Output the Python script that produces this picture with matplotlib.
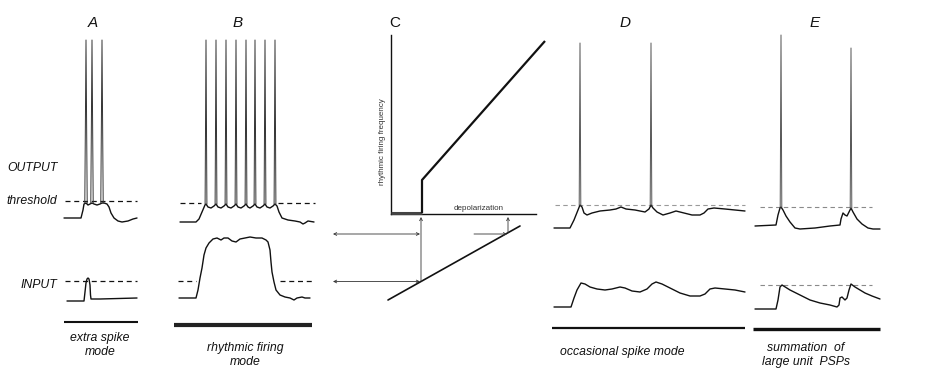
import matplotlib
matplotlib.use("Agg")
import matplotlib.pyplot as plt
import numpy as np

# ---------------- data (traces, figure-pixel units) -------------
# Panel A : extra spike mode
A_out_x = [64, 81, 83, 84, 86, 88, 90, 92, 94, 97, 100, 102, 104, 107, 109, 111, 114, 118, 122, 128, 133, 137]
A_out_y = [218, 218, 210, 204, 203, 205, 204, 203, 204, 205, 204, 203, 203, 204, 207, 213, 218, 221, 222, 221, 219, 218]
A_spikes = [86, 92, 102]
A_spike_top = [40, 40, 40]
A_in_x = [67, 84, 85, 86, 87, 88, 89, 90, 90.5, 91, 100, 137]
A_in_y = [301, 301, 292, 283, 279, 278, 279, 285, 295, 299, 299, 298]

# Panel B : rhythmic firing mode
B_out_x = [180, 196, 199, 202, 205, 206, 208, 211, 214, 216, 218, 221, 224, 226, 228, 231, 234, 236, 238,
           241, 244, 246, 248, 250, 253, 255, 257, 260, 263, 265, 267, 270, 273, 275, 277, 279, 282, 288,
           295, 300, 303, 305, 308, 314]
B_out_y = [222, 222, 219, 212, 205, 204, 207, 208, 206, 204, 207, 208, 206, 204, 207, 208, 206, 204, 207,
           208, 206, 204, 207, 208, 206, 204, 207, 208, 206, 204, 207, 208, 206, 204, 206, 212, 218, 220,
           221, 222, 224, 223, 221, 222]
B_spikes = [206, 216, 226, 236, 246, 255, 265, 275]
B_spike_top = [40] * 8
B_in_x = [179, 196, 198, 200, 202, 204, 206, 209, 213, 217, 221, 224, 228, 232, 236, 240, 245, 250, 256,
          262, 266, 268, 270, 271, 272, 274, 276, 280, 285, 290, 294, 297, 302, 305, 310]
B_in_y = [298, 298, 290, 278, 268, 255, 248, 243, 239, 238, 240, 238, 238, 241, 242, 239, 238, 237, 238,
          238, 240, 242, 250, 262, 272, 282, 290, 295, 297, 298, 300, 298, 297, 298, 298]

# Panel C : frequency / depolarization relation
C_curve_x = [391, 422, 422, 545]
C_curve_y = [213, 213, 180, 41]
C_input_x = [388, 520]
C_input_y = [300, 226]

# Panel D : occasional spike mode
D_out_x = [554, 570, 574, 578, 580, 582, 584, 587, 592, 600, 610, 616, 621, 626, 635, 645, 649, 651, 653,
           657, 663, 670, 676, 684, 692, 700, 704, 708, 714, 725, 735, 745]
D_out_y = [228, 228, 220, 210, 205, 207, 213, 215, 213, 211, 210, 209, 207, 209, 210, 212, 209, 205, 208,
           212, 215, 213, 211, 213, 215, 215, 213, 209, 208, 209, 210, 211]
D_spikes = [580, 651]
D_spike_top = [43, 43]
D_in_x = [554, 571, 574, 577, 581, 585, 590, 597, 605, 612, 620, 625, 632, 640, 647, 652, 656, 662, 670,
          680, 690, 700, 705, 710, 715, 725, 735, 745]
D_in_y = [307, 307, 298, 290, 283, 284, 287, 289, 290, 289, 287, 288, 291, 292, 289, 284, 282, 284, 288,
          293, 296, 296, 294, 289, 288, 289, 290, 292]

# Panel E : summation of large unit PSPs
E_out_x = [755, 776, 778, 780, 781, 783, 786, 790, 795, 800, 815, 830, 840, 841, 843, 845, 847, 849, 851,
           853, 857, 862, 868, 873, 880]
E_out_y = [226, 225, 215, 208, 207, 210, 216, 222, 228, 229, 228, 226, 225, 219, 213, 215, 216, 212, 208,
           212, 219, 224, 228, 229, 229]
E_spikes = [781, 851]
E_spike_top = [35, 48]
E_in_x = [755, 776, 778, 780, 782, 790, 800, 810, 820, 830, 837, 839, 840, 842, 845, 847, 849, 851, 855,
          860, 865, 872, 880]
E_in_y = [309, 309, 300, 287, 285, 290, 295, 300, 303, 305, 307, 305, 298, 297, 300, 298, 290, 284, 287,
          290, 293, 296, 299]

panel_letters = ["A", "B", "C", "D", "E"]
mode_labels = ["extra spike\nmode", "rhythmic firing\nmode", "occasional spike mode",
               "summation  of\nlarge unit  PSPs"]

# ---------------- drawing -------------
W, H = 925, 387
fig = plt.figure(figsize=(W / 100, H / 100), dpi=100)
ax = fig.add_axes([0, 0, 1, 1])
ax.set_xlim(0, W)
ax.set_ylim(H, 0)
ax.axis("off")

FONT = "Liberation Sans"
ink = "#111111"


def trace(x, y, lw=1.0, color=ink):
    ax.plot(x, y, color=color, lw=lw, solid_joinstyle="round", solid_capstyle="round")


def spikes(xs, tops, tx, ty, half=0.9, color="#333333"):
    for sx, top in zip(xs, tops):
        base = np.interp(sx, tx, ty)
        ax.plot([sx - half, sx, sx + half], [base, top, base], color=color, lw=0.7)


def dashed(x0, x1, y, color=ink, lw=0.9):
    ax.plot([x0, x1], [y, y], color=color, lw=lw, dashes=(4, 3))


def bar(x0, x1, y, lw, color=ink):
    ax.plot([x0, x1], [y, y], color=color, lw=lw, solid_capstyle="butt")


# Panel A
dashed(65, 137, 201)
dashed(65, 137, 281)
trace(A_out_x, A_out_y)
spikes(A_spikes, A_spike_top, A_out_x, A_out_y, half=1.2)
trace(A_in_x, A_in_y)
bar(64, 138, 322, 1.5)

# Panel B
dashed(180, 201, 203)
dashed(278, 315, 203)
dashed(178, 196, 281)
dashed(280, 315, 281)
trace(B_out_x, B_out_y)
spikes(B_spikes, B_spike_top, B_out_x, B_out_y)
trace(B_in_x, B_in_y)
bar(174, 312, 325, 3.0, color="#222222")

# Panel C
ax.plot([391, 391], [35, 214], color=ink, lw=1.0)
ax.plot([391, 536], [214, 214], color=ink, lw=1.0)
ax.plot(C_curve_x[:2], C_curve_y[:2], color="#444444", lw=2.2, solid_capstyle="butt")
ax.plot(C_curve_x[1:], C_curve_y[1:], color=ink, lw=1.6, solid_capstyle="butt")
trace(C_input_x, C_input_y, lw=1.2)
arrow_kw = dict(arrowstyle="->", lw=0.6, color="#333333", mutation_scale=5, shrinkA=0, shrinkB=0)
darrow_kw = dict(arrowstyle="<->", lw=0.6, color="#333333", mutation_scale=5, shrinkA=0, shrinkB=0)
x_thr = 421
y_thr = np.interp(x_thr, C_input_x, C_input_y)
ax.annotate("", xy=(x_thr, 217), xytext=(x_thr, y_thr), arrowprops=arrow_kw)
x_hi = 508
y_hi = np.interp(x_hi, C_input_x, C_input_y)
ax.annotate("", xy=(x_hi, 217), xytext=(x_hi, y_hi), arrowprops=arrow_kw)
ax.annotate("", xy=(333, 234), xytext=(x_thr - 1, 234), arrowprops=darrow_kw)
ax.annotate("", xy=(x_hi - 1, 234), xytext=(474, 234), arrowprops=arrow_kw)
ax.annotate("", xy=(333, y_thr), xytext=(x_thr - 1, y_thr), arrowprops=darrow_kw)
ax.text(383, 142, "rhythmic firing frequency", rotation=90, ha="center", va="center",
        fontsize=5.8, family=FONT, color="#333333")
ax.text(479, 209, "depolarization", ha="center", va="center", fontsize=5.8,
        family=FONT, color="#333333")

# Panel D
dashed(555, 745, 205, color="#9a9a9a", lw=0.8)
trace(D_out_x, D_out_y)
spikes(D_spikes, D_spike_top, D_out_x, D_out_y, half=0.8, color="#555555")
trace(D_in_x, D_in_y)
bar(552, 745, 328, 1.6)

# Panel E
dashed(760, 872, 207, color="#8a8a8a", lw=0.8)
dashed(760, 872, 285, color="#8a8a8a", lw=0.8)
trace(E_out_x, E_out_y)
spikes(E_spikes, E_spike_top, E_out_x, E_out_y, half=0.8, color="#555555")
trace(E_in_x, E_in_y)
bar(753, 880, 329, 2.4)

# Text
letter_pos = [(93, 23), (238, 23), (395, 23), (625, 23), (815, 23)]
for (lx, ly), letter in zip(letter_pos, panel_letters):
    ax.text(lx, ly, letter, ha="center", va="center", fontsize=11, family=FONT,
            style="normal" if letter == "C" else "italic", color=ink)

lab_kw = dict(fontsize=8.8, family=FONT, style="italic", color=ink)
ax.text(7, 168, "OUTPUT", ha="left", va="center", **lab_kw)
ax.text(6, 201, "threshold", ha="left", va="center", **lab_kw)
ax.text(21, 285, "INPUT", ha="left", va="center", **lab_kw)

mode_pos = [(100, 345), (245, 355), (622, 352), (806, 355)]
for (mx, my), lab in zip(mode_pos, mode_labels):
    ax.text(mx, my, lab, ha="center", va="center", linespacing=1.2, **lab_kw)

fig.savefig("out.png", dpi=100, facecolor="white")
